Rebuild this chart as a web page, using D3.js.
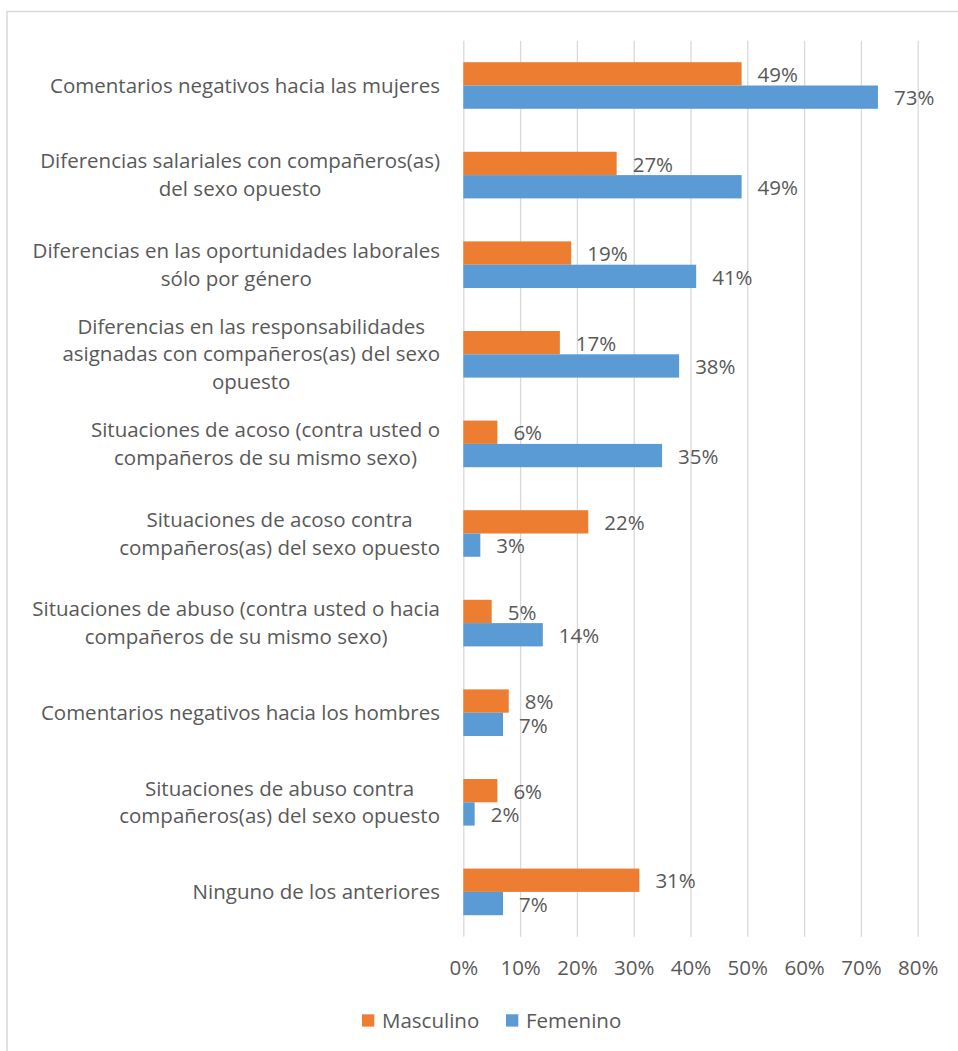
<!DOCTYPE html>
<html lang="es">
<head>
<meta charset="utf-8">
<script src="https://cdn.jsdelivr.net/npm/d3@7"></script>
<style>
  html, body { margin: 0; padding: 0; background: #fff; }
  svg text { font-family: "Open Sans", "Noto Sans", sans-serif; fill: #595959; }
</style>
</head>
<body>
<svg id="chart" width="958" height="1051"></svg>
<script>
// Survey categories (line breaks mark how each label wraps)
const categories = [
  "Comentarios negativos hacia las mujeres",
  "Diferencias salariales con compañeros(as)\ndel sexo opuesto",
  "Diferencias en las oportunidades laborales\nsólo por género",
  "Diferencias en las responsabilidades\nasignadas con compañeros(as) del sexo\nopuesto",
  "Situaciones de acoso (contra usted o\ncompañeros de su mismo sexo)",
  "Situaciones de acoso contra\ncompañeros(as) del sexo opuesto",
  "Situaciones de abuso (contra usted o hacia\ncompañeros de su mismo sexo)",
  "Comentarios negativos hacia los hombres",
  "Situaciones de abuso contra\ncompañeros(as) del sexo opuesto",
  "Ninguno de los anteriores"
];

const seriesNames = ["Masculino", "Femenino"];
const masculino = [0.49, 0.27, 0.19, 0.17, 0.06, 0.22, 0.05, 0.08, 0.06, 0.31];
const femenino  = [0.73, 0.49, 0.41, 0.38, 0.35, 0.03, 0.14, 0.07, 0.02, 0.07];
const seriesColors = ["#ED7D31", "#5B9BD5"];
const tickValues = [0, 0.1, 0.2, 0.3, 0.4, 0.5, 0.6, 0.7, 0.8];

const svg = d3.select("#chart");
const W = 958, H = 1051;
const FONT = "20.5px";

// outer chart frame (runs off the right and bottom edges)
svg.append("rect")
  .attr("x", 7).attr("y", 11.5)
  .attr("width", W + 20).attr("height", H + 20)
  .attr("fill", "none").attr("stroke", "#d9d9d9").attr("stroke-width", 1.5);

const plot = { left: 463.3, right: 917.7, top: 40.7, bottom: 936.7 };

const x = d3.scaleLinear().domain([0, 0.8]).range([plot.left, plot.right]);
const y = d3.scaleBand().domain(categories).range([plot.top, plot.bottom]);
const barGroup = 46.6;
const ySeries = d3.scaleBand().domain(seriesNames).range([0, barGroup]);

// vertical gridlines + percentage tick labels
const xAxis = d3.axisBottom(x)
  .tickValues(tickValues)
  .tickFormat(d3.format(".0%"))
  .tickSize(-(plot.bottom - plot.top))
  .tickPadding(0);

const axisG = svg.append("g")
  .attr("transform", `translate(0,${plot.bottom})`)
  .call(xAxis);
axisG.select(".domain").remove();
axisG.selectAll(".tick line").attr("stroke", "#d9d9d9").attr("stroke-width", 1.3);
axisG.selectAll(".tick text")
  .attr("y", 38)
  .attr("dy", 0)
  .style("font-size", FONT)
  .style("font-family", "\"Open Sans\", sans-serif")
  .attr("fill", "#595959");

// bars
const data = [];
categories.forEach((c, i) => {
  data.push({ cat: c, series: seriesNames[0], value: masculino[i], color: seriesColors[0] });
  data.push({ cat: c, series: seriesNames[1], value: femenino[i], color: seriesColors[1] });
});

const groupOffset = (y.bandwidth() - barGroup) / 2;

svg.append("g").selectAll("rect")
  .data(data)
  .join("rect")
  .attr("x", x(0))
  .attr("y", d => y(d.cat) + groupOffset + ySeries(d.series))
  .attr("width", d => x(d.value) - x(0))
  .attr("height", ySeries.bandwidth())
  .attr("fill", d => d.color);

// value labels
svg.append("g").selectAll("text")
  .data(data)
  .join("text")
  .attr("x", d => x(d.value) + 16)
  .attr("y", d => y(d.cat) + groupOffset + ySeries(d.series) + ySeries.bandwidth() / 2 + 1)
  .attr("dy", "0.35em")
  .style("font-size", FONT)
  .text(d => d3.format(".0%")(d.value));

// category labels: block right-aligned to the axis, lines centred within the block
const labelRight = 440;
const lineH = 27.7;
const labelG = svg.append("g");
categories.forEach(c => {
  const lines = c.split("\n");
  const t = labelG.append("text").style("font-size", FONT).attr("text-anchor", "middle");
  const cy = y(c) + y.bandwidth() / 2;
  lines.forEach((ln, k) => {
    t.append("tspan")
      .attr("y", cy + (k - (lines.length - 1) / 2) * lineH)
      .attr("dy", "0.35em")
      .text(ln);
  });
  const maxW = d3.max(t.selectAll("tspan").nodes(), n => n.getComputedTextLength());
  t.selectAll("tspan").attr("x", labelRight - maxW / 2);
});

// legend
const legendItems = [
  { name: seriesNames[0], color: seriesColors[0], x: 362 },
  { name: seriesNames[1], color: seriesColors[1], x: 506 }
];
const lg = svg.append("g");
legendItems.forEach(it => {
  lg.append("rect")
    .attr("x", it.x).attr("y", 1014.3)
    .attr("width", 12.3).attr("height", 12.3)
    .attr("fill", it.color);
  lg.append("text")
    .attr("x", it.x + 20)
    .attr("y", 1020.5)
    .attr("dy", "0.35em")
    .style("font-size", FONT)
    .text(it.name);
});
</script>
</body>
</html>
